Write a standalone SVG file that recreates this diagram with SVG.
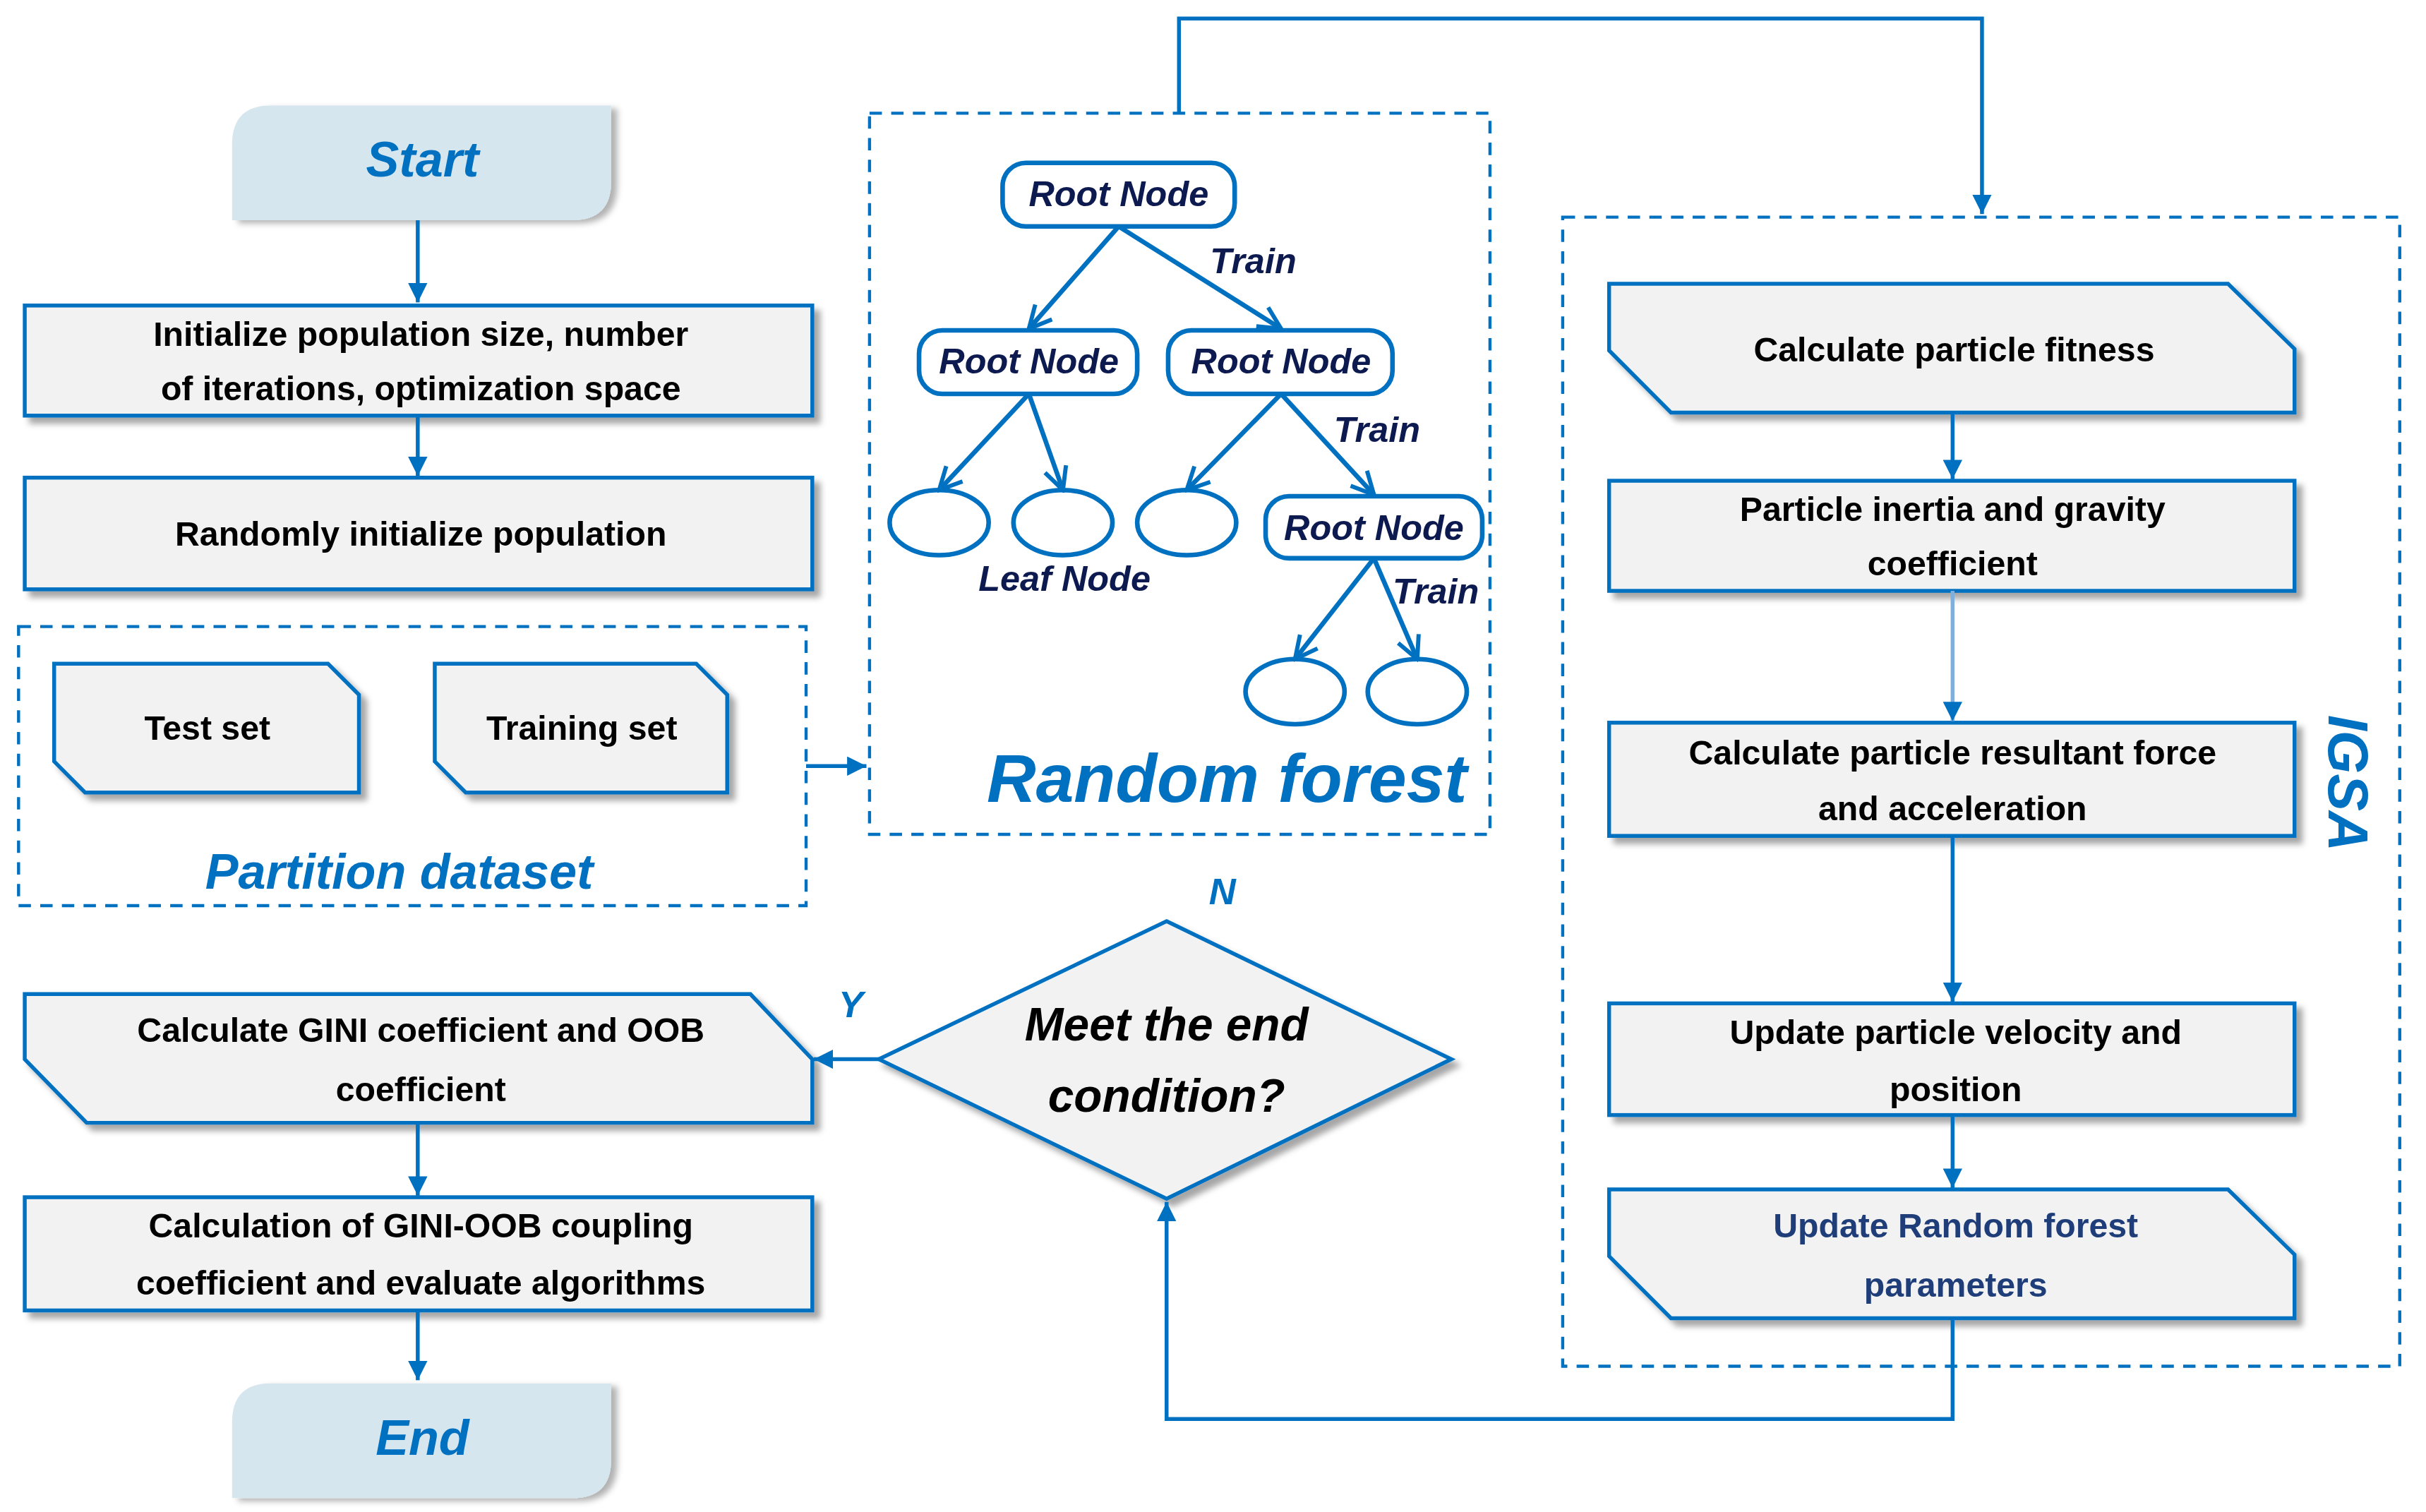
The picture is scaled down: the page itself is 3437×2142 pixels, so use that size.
<svg xmlns="http://www.w3.org/2000/svg" width="3437" height="2142" viewBox="0 0 3437 2142">
<defs>
<style>
.box{fill:#f2f2f2;stroke:#0070c0;stroke-width:2.5;filter:url(#sh)}
.term{fill:#d6e6ef;filter:url(#sh2)}
.dash{fill:none;stroke:#0070c0;stroke-width:2;stroke-dasharray:8 6}
.t{font-family:"Liberation Sans",Arial,sans-serif;font-weight:bold;font-size:22px;fill:#000;text-anchor:middle}
.bi{font-family:"Liberation Sans",Arial,sans-serif;font-weight:bold;font-style:italic;fill:#0070c0;text-anchor:middle}
.tn{font-family:"Liberation Sans",Arial,sans-serif;font-weight:bold;font-style:italic;font-size:23px;fill:#0d1a4f;text-anchor:middle}
.ln{fill:none;stroke:#0070c0;stroke-width:2.5}
.tl{fill:none;stroke:#0070c0;stroke-width:3}
.tb{fill:#fff;stroke:#0070c0;stroke-width:3}
</style>
<filter id="sh" x="-10%" y="-20%" width="120%" height="150%"><feDropShadow dx="4" dy="4" stdDeviation="2" flood-color="#000" flood-opacity="0.35"/></filter>
<filter id="sh2" x="-10%" y="-20%" width="120%" height="150%"><feDropShadow dx="4" dy="2" stdDeviation="2" flood-color="#000" flood-opacity="0.3"/></filter>
<marker id="a" viewBox="0 0 10 10" refX="10" refY="5" markerWidth="5" markerHeight="5" orient="auto"><path d="M0,0L10,5L0,10z" fill="#0070c0"/></marker>
<marker id="o" viewBox="0 0 10 10" refX="9" refY="5" markerWidth="6" markerHeight="6" orient="auto"><path d="M1,1L9,5L1,9" fill="none" stroke="#0070c0" stroke-width="1.5"/></marker>
</defs>
<rect width="3437" height="2142" fill="#fff"/>
<g transform="scale(2.192 2.197)">
<g id="start"><path class="term" d="M175,68H395V117Q395,142 370,142H150V93Q150,68 175,68z"/><text class="bi" x="273" y="114" font-size="32">Start</text></g>
<g id="init"><rect class="box" x="16" y="197" width="509" height="71"/><text class="t" x="272" y="223">Initialize population size, number</text><text class="t" x="272" y="258">of iterations, optimization space</text></g>
<g id="rand"><rect class="box" x="16" y="308" width="509" height="72"/><text class="t" x="272" y="352">Randomly initialize population</text></g>
<g id="partition"><rect class="dash" x="12" y="404" width="509" height="180"/>
<path class="box" d="M35,428H212L232,448V511H55L35,491z"/><text class="t" x="134" y="477">Test set</text>
<path class="box" d="M281,428H450L470,448V511H301L281,491z"/><text class="t" x="376" y="477">Training set</text>
<text class="bi" x="258" y="573" font-size="32">Partition dataset</text></g>
<g id="forest"><rect class="dash" x="562" y="73" width="401" height="465"/>
<rect class="tb" x="648" y="105" width="150" height="41" rx="15"/><text class="tn" x="723" y="133">Root Node</text>
<rect class="tb" x="594" y="213" width="141" height="41" rx="15"/><text class="tn" x="665" y="241">Root Node</text>
<rect class="tb" x="755" y="213" width="145" height="41" rx="15"/><text class="tn" x="828" y="241">Root Node</text>
<rect class="tb" x="818" y="320" width="140" height="40" rx="15"/><text class="tn" x="888" y="348">Root Node</text>
<ellipse class="tb" cx="607" cy="337" rx="32" ry="21"/><ellipse class="tb" cx="687" cy="337" rx="32" ry="21"/><ellipse class="tb" cx="767" cy="337" rx="32" ry="21"/><ellipse class="tb" cx="837" cy="446" rx="32" ry="21"/><ellipse class="tb" cx="916" cy="446" rx="32" ry="21"/>
<g marker-end="url(#o)"><path class="tl" d="M723,146L665,212"/><path class="tl" d="M723,146L828,212"/><path class="tl" d="M665,254L607,316"/><path class="tl" d="M665,254L687,316"/><path class="tl" d="M828,254L767,316"/><path class="tl" d="M828,254L888,319"/><path class="tl" d="M888,360L837,425"/><path class="tl" d="M888,360L916,425"/></g>
<text class="tn" x="810" y="176">Train</text><text class="tn" x="890" y="285">Train</text><text class="tn" x="928" y="389">Train</text><text class="tn" x="688" y="381">Leaf Node</text>
<text class="bi" x="793" y="517" font-size="44">Random forest</text></g>
<g id="igsa"><rect class="dash" x="1010" y="140" width="541" height="741"/>
<text class="bi" font-size="36" transform="translate(1505,505) rotate(90)">IGSA</text></g>
<g id="fit"><path class="box" d="M1040,183H1440L1483,225V266H1080L1040,226z"/><text class="t" x="1263" y="233">Calculate particle fitness</text></g>
<g id="inertia"><rect class="box" x="1040" y="310" width="443" height="71"/><text class="t" x="1262" y="336">Particle inertia and gravity</text><text class="t" x="1262" y="371">coefficient</text></g>
<g id="force"><rect class="box" x="1040" y="466" width="443" height="73"/><text class="t" x="1262" y="493">Calculate particle resultant force</text><text class="t" x="1262" y="529">and acceleration</text></g>
<g id="vel"><rect class="box" x="1040" y="647" width="443" height="72"/><text class="t" x="1264" y="673">Update particle velocity and</text><text class="t" x="1264" y="710">position</text></g>
<g id="upd"><path class="box" d="M1040,767H1440L1483,809V850H1080L1040,810z"/><text class="t" x="1264" y="798" fill="#1f3e79" style="fill:#1f3e79">Update Random forest</text><text class="t" x="1264" y="836" style="fill:#1f3e79">parameters</text></g>
<g id="cond"><path class="box" d="M754,594L938,683L754,773L568,683z"/><text class="bi" x="754" y="671" font-size="30" style="fill:#000">Meet the end</text><text class="bi" x="754" y="717" font-size="30" style="fill:#000">condition?</text></g>
<g id="gini"><path class="box" d="M16,641H485L525,683V724H56L16,683z"/><text class="t" x="272" y="672">Calculate GINI coefficient and OOB</text><text class="t" x="272" y="710">coefficient</text></g>
<g id="couple"><rect class="box" x="16" y="772" width="509" height="73"/><text class="t" x="272" y="798">Calculation of GINI-OOB coupling</text><text class="t" x="272" y="835">coefficient and evaluate algorithms</text></g>
<g id="end"><path class="term" d="M175,892H395V941Q395,966 370,966H150V917Q150,892 175,892z"/><text class="bi" x="273" y="938" font-size="32">End</text></g>
<g id="connectors" marker-end="url(#a)">
<path class="ln" d="M270,142V195"/><path class="ln" d="M270,268V307"/>
<path class="ln" d="M521,494H560"/>
<path class="ln" d="M762,73V12H1281V138"/>
<path class="ln" d="M1262,266V309"/><path class="ln" d="M1262,381V465" style="stroke:#7fb0dc"/><path class="ln" d="M1262,539V646"/><path class="ln" d="M1262,719V766"/>
<path class="ln" d="M1262,850V915H754V775"/>
<path class="ln" d="M568,683H526"/>
<path class="ln" d="M270,724V771"/><path class="ln" d="M270,845V890"/>
</g>
<text class="bi" x="790" y="583" font-size="24">N</text><text class="bi" x="550" y="656" font-size="24">Y</text>
</g>
</svg>
